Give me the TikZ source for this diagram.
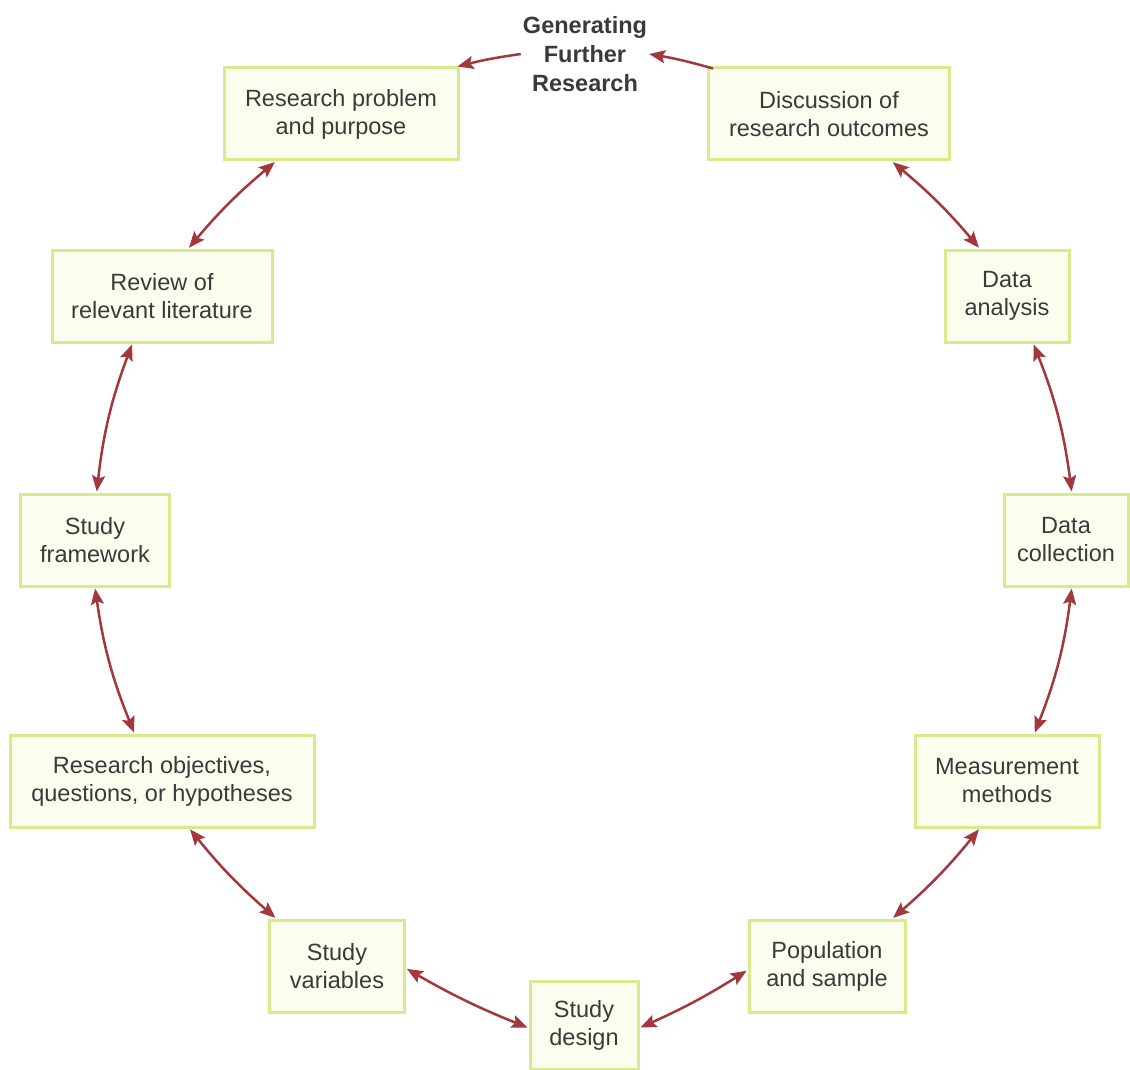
\documentclass[tikz,border=0pt]{standalone}
\usepackage{fontspec}
\setmainfont{Liberation Sans}
\usetikzlibrary{arrows.meta}
\definecolor{boxline}{HTML}{D8EA8C}
\definecolor{boxfill}{HTML}{FBFDEE}
\definecolor{linkred}{HTML}{A3383C}
\definecolor{ink}{HTML}{3A3A3A}
\begin{document}
\begin{tikzpicture}[x=1pt,y=1pt,
  stagebox/.style={draw=boxline, fill=boxfill, line width=3pt, inner sep=0pt,
    align=center, text=ink, font=\fontsize{23.5}{28}\selectfont},
  link/.style={draw=linkred, line width=2.5pt,
    {Stealth[length=16pt,width=13pt,inset=3pt]}-{Stealth[length=16pt,width=13pt,inset=3pt]},
    shorten <=1pt, shorten >=1pt},
  onelink/.style={draw=linkred, line width=2.5pt,
    -{Stealth[length=16pt,width=13pt,inset=3pt]}}
]
\useasboundingbox (0,0) rectangle (1130,-1070);
\fill[white] (0,0) rectangle (1130,-1070);

% the stages of the research process, arranged round a circle
\node[stagebox, minimum width=234, minimum height=92] (prob) at (341,-114) {Research problem\\and purpose};
\node[stagebox, minimum width=241, minimum height=92] (disc) at (829,-114) {Discussion of\\research outcomes};
\node[stagebox, minimum width=220, minimum height=92] (rev) at (162,-296) {Review of\\relevant literature};
\node[stagebox, minimum width=124, minimum height=92] (ana) at (1007,-296) {Data\\analysis};
\node[stagebox, minimum width=149, minimum height=92] (frame) at (95,-540) {Study\\framework};
\node[stagebox, minimum width=124, minimum height=92] (coll) at (1066,-540) {Data\\collection};
\node[stagebox, minimum width=304, minimum height=92] (obj) at (162,-781) {Research objectives,\\questions, or hypotheses};
\node[stagebox, minimum width=184, minimum height=92] (meas) at (1007,-781) {Measurement\\methods};
\node[stagebox, minimum width=135, minimum height=92] (var) at (337,-966) {Study\\variables};
\node[stagebox, minimum width=156, minimum height=92] (pop) at (827,-966) {Population\\and sample};
\node[stagebox, minimum width=108, minimum height=88] (des) at (584,-1025) {Study\\design};

\node[align=center, text=ink, inner sep=2pt, font=\bfseries\fontsize{23.5}{29}\selectfont] (gen) at (585,-54) {Generating\\Further\\Research};

% two-way links between neighbouring stages
\draw[link] (prob.-144) to[bend right=5] (rev.61);
\draw[link] (rev.-122) to[bend right=7] (frame.88);
\draw[link] (frame.-90) to[bend right=7] (obj.120);
\draw[link] (obj.-60) to[bend right=5] (var.142);
\draw[link] (var.-2) to[bend right=4] (des.-177);
\draw[link] (des.-3) to[bend right=4] (pop.183);
\draw[link] (pop.36) to[bend right=5] (meas.-120);
\draw[link] (meas.60) to[bend right=7] (coll.-83);
\draw[link] (coll.83) to[bend right=7] (ana.-61);
\draw[link] (ana.120) to[bend right=5] (disc.-37);

% outcomes feed further research, which feeds a new problem
\draw[onelink] ([xshift=6pt,yshift=-2pt]disc.north west) to[bend right=3] (gen.east);
\draw[onelink] (gen.west) to[bend right=3] ([xshift=-2pt]prob.north east);
\end{tikzpicture}
\end{document}
